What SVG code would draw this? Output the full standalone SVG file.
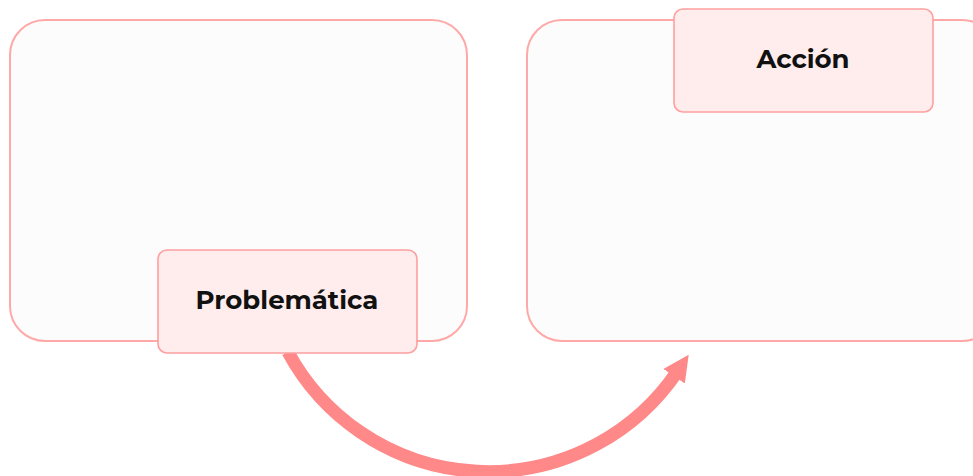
<svg xmlns="http://www.w3.org/2000/svg" width="973" height="476" viewBox="0 0 973 476">
<style>
.big{fill:#fdfcfc;stroke:#ffa8a8;stroke-width:2}
.small{fill:#ffecec;stroke:#ff9f9f;stroke-width:1.6}
.lbl{font-family:"Montserrat","Noto Sans","Open Sans",sans-serif;font-weight:700;font-size:26px;fill:#111;text-anchor:middle;dominant-baseline:central}
.conn{fill:none;stroke:#ff8888;stroke-width:13}
</style>
<defs>
<marker id="ah" viewBox="0 0 10 10" refX="2" refY="5" markerWidth="2" markerHeight="2.5" markerUnits="strokeWidth" orient="auto">
<path d="M0,0 L10,5 L0,10 z" fill="#ff8888"/>
</marker>
</defs>
<rect width="973" height="476" fill="#ffffff"/>
<g id="left-panel"><rect class="big" x="10" y="20" width="457" height="321" rx="35"/></g>
<g id="right-panel"><rect class="big" x="527" y="20" width="470" height="321" rx="35"/></g>
<g id="connectors">
<path class="conn" d="M 288 352 A 228 228 0 0 0 677 372" marker-end="url(#ah)"/>
</g>
<g id="problematica"><rect class="small" x="158" y="250" width="259" height="103" rx="9"/><text class="lbl" x="287" y="300">Problemática</text></g>
<g id="accion"><rect class="small" x="674" y="9" width="259" height="103" rx="9"/><text class="lbl" x="803" y="59">Acción</text></g>
</svg>
